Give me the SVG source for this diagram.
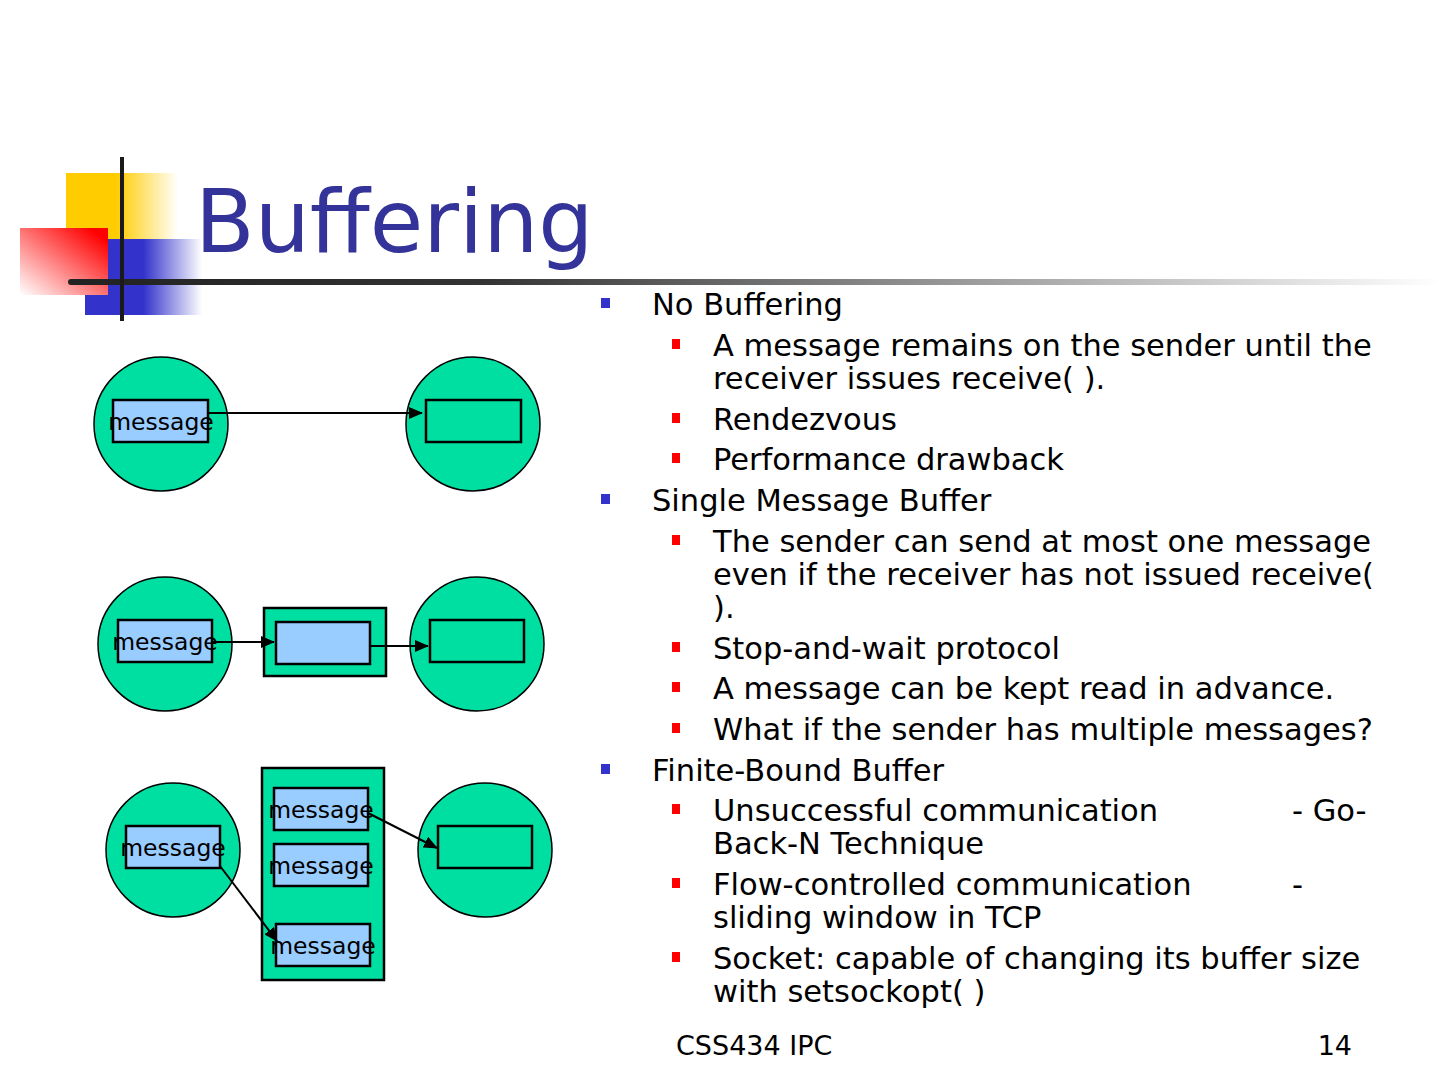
<svg xmlns="http://www.w3.org/2000/svg" width="1440" height="1080" viewBox="0 0 1440 1080">
<defs>
<linearGradient id="gYel" x1="0" y1="0" x2="1" y2="0"><stop offset="0" stop-color="#FFCC00"/><stop offset="0.45" stop-color="#FFCC00"/><stop offset="1" stop-color="#FFFFFF"/></linearGradient>
<linearGradient id="gBlue" x1="0" y1="0" x2="1" y2="0"><stop offset="0" stop-color="#3333CC"/><stop offset="0.5" stop-color="#3333CC"/><stop offset="1" stop-color="#FFFFFF"/></linearGradient>
<linearGradient id="gRed" x1="0" y1="1" x2="1" y2="0"><stop offset="0" stop-color="#FFFFFF"/><stop offset="0.9" stop-color="#FF0000"/><stop offset="1" stop-color="#FF0000"/></linearGradient>
<linearGradient id="gLine" gradientUnits="userSpaceOnUse" x1="68" y1="0" x2="1440" y2="0"><stop offset="0" stop-color="#222222"/><stop offset="0.3" stop-color="#333333"/><stop offset="1" stop-color="#FFFFFF"/></linearGradient>
<marker id="ah" markerUnits="userSpaceOnUse" markerWidth="14" markerHeight="12" refX="13" refY="6" orient="auto"><path d="M0,0 L14,6 L0,12 z" fill="#000"/></marker>
</defs>
<style>
.node{fill:#00DFA2;stroke:#000;stroke-width:1.5}
.msg{fill:#99CCFF;stroke:#000;stroke-width:2.5}
.box{fill:#00DFA2;stroke:#000;stroke-width:2.5}
.lbl{font-family:"DejaVu Sans","Liberation Sans",sans-serif;font-size:23.5px;fill:#000;text-anchor:middle}
.conn{stroke:#000;stroke-width:2;fill:none;marker-end:url(#ah)}
.t1{font-family:"DejaVu Sans","Liberation Sans",sans-serif;font-size:30.5px;fill:#000}
.b1{fill:#3333CC}
.b2{fill:#FF0000}
.title{font-family:"DejaVu Sans","Liberation Sans",sans-serif;font-size:87px;fill:#333399}
</style>
<rect width="1440" height="1080" fill="#FFFFFF"/>
<g id="decor">
<rect x="66" y="173" width="112" height="67" fill="url(#gYel)"/>
<rect x="85" y="239" width="117" height="76" fill="url(#gBlue)"/>
<rect x="20" y="228" width="88" height="67" fill="url(#gRed)"/>
<rect x="68" y="279" width="1372" height="6" rx="3" fill="url(#gLine)"/>
<line x1="122" y1="157" x2="122" y2="321" stroke="#1A1A1A" stroke-width="4"/>
</g>
<text id="title" class="title" x="195" y="252">Buffering</text>
<g id="row1-sender"><circle class="node" cx="161" cy="424" r="67"/><rect class="msg" x="113" y="400" width="95" height="42"/><text class="lbl" x="161" y="430">message</text></g>
<g id="row1-receiver"><circle class="node" cx="473" cy="424" r="67"/><rect class="box" x="426" y="400" width="95" height="42"/></g>
<g id="row2-sender"><circle class="node" cx="165" cy="644" r="67"/><rect class="msg" x="118" y="620" width="94" height="42"/><text class="lbl" x="165" y="650">message</text></g>
<g id="row2-buffer"><rect class="box" x="264" y="608" width="122" height="68"/><rect class="msg" x="276" y="622" width="94" height="42"/></g>
<g id="row2-receiver"><circle class="node" cx="477" cy="644" r="67"/><rect class="box" x="430" y="620" width="94" height="42"/></g>
<g id="row3-sender"><circle class="node" cx="173" cy="850" r="67"/><rect class="msg" x="126" y="826" width="94" height="42"/><text class="lbl" x="173" y="856">message</text></g>
<g id="row3-buffer"><rect class="box" x="262" y="768" width="122" height="212"/>
<rect class="msg" x="274" y="788" width="94" height="42"/><text class="lbl" x="321" y="818">message</text>
<rect class="msg" x="274" y="844" width="94" height="42"/><text class="lbl" x="321" y="874">message</text>
<rect class="msg" x="276" y="924" width="94" height="42"/><text class="lbl" x="323" y="954">message</text></g>
<g id="row3-receiver"><circle class="node" cx="485" cy="850" r="67"/><rect class="box" x="438" y="826" width="94" height="42"/></g>
<g id="connectors">
<line class="conn" x1="208" y1="413" x2="422" y2="413"/>
<line class="conn" x1="212" y1="642" x2="274" y2="642"/>
<line class="conn" x1="370" y1="646" x2="428" y2="646"/>
<line class="conn" x1="220" y1="866" x2="277" y2="941"/>
<line class="conn" x1="368" y1="813" x2="437" y2="848"/>
</g>
<g id="bullets">
<rect class="b1" x="601" y="298" width="9" height="10"/><text class="t1" x="652" y="315">No Buffering</text>
<rect class="b2" x="672" y="339" width="8" height="10"/><text class="t1" x="713" y="356">A message remains on the sender until the</text>
<text class="t1" x="713" y="389">receiver issues receive( ).</text>
<rect class="b2" x="672" y="413" width="8" height="10"/><text class="t1" x="713" y="430">Rendezvous</text>
<rect class="b2" x="672" y="453" width="8" height="10"/><text class="t1" x="713" y="470">Performance drawback</text>
<rect class="b1" x="601" y="494" width="9" height="10"/><text class="t1" x="652" y="511">Single Message Buffer</text>
<rect class="b2" x="672" y="535" width="8" height="10"/><text class="t1" x="713" y="552">The sender can send at most one message</text>
<text class="t1" x="713" y="585">even if the receiver has not issued receive(</text>
<text class="t1" x="713" y="618">).</text>
<rect class="b2" x="672" y="642" width="8" height="10"/><text class="t1" x="713" y="659">Stop-and-wait protocol</text>
<rect class="b2" x="672" y="682" width="8" height="10"/><text class="t1" x="713" y="699">A message can be kept read in advance.</text>
<rect class="b2" x="672" y="723" width="8" height="10"/><text class="t1" x="713" y="740">What if the sender has multiple messages?</text>
<rect class="b1" x="601" y="764" width="9" height="10"/><text class="t1" x="652" y="781">Finite-Bound Buffer</text>
<rect class="b2" x="672" y="804" width="8" height="10"/><text class="t1" x="713" y="821">Unsuccessful communication</text><text class="t1" x="1292" y="821">- Go-</text>
<text class="t1" x="713" y="854">Back-N Technique</text>
<rect class="b2" x="672" y="878" width="8" height="10"/><text class="t1" x="713" y="895">Flow-controlled communication</text><text class="t1" x="1292" y="895">-</text>
<text class="t1" x="713" y="928">sliding window in TCP</text>
<rect class="b2" x="672" y="952" width="8" height="10"/><text class="t1" x="713" y="969">Socket: capable of changing its buffer size</text>
<text class="t1" x="713" y="1002">with setsockopt( )</text>
</g>
<g id="footer">
<text class="t1" x="676" y="1055" style="font-size:27px">CSS434 IPC</text>
<text class="t1" x="1352" y="1055" style="font-size:27px;text-anchor:end">14</text>
</g>
</svg>
